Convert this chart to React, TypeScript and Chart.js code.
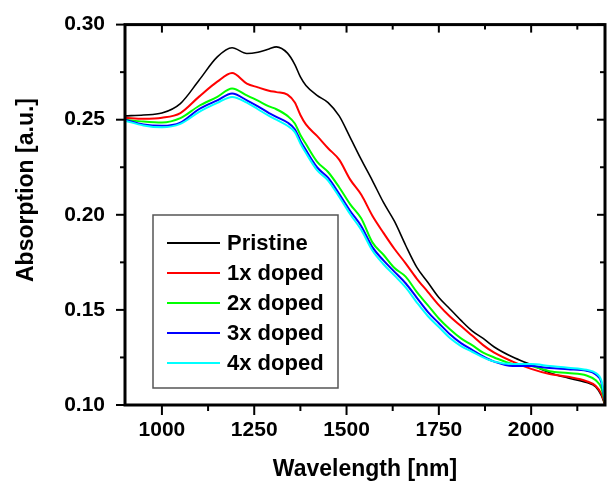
import React, { useEffect, useRef } from 'react';
import { Chart, registerables } from 'chart.js';

Chart.register(...registerables);

const wavelength = [
  900, 950, 1000, 1050, 1100, 1150, 1190, 1230, 1260, 1290, 1310, 1340, 1360, 1375, 1390,
  1420, 1450, 1480, 1510, 1540, 1570, 1600, 1630, 1660, 1690, 1720, 1750, 1780, 1810, 1840,
  1870, 1900, 1950, 2000, 2050, 2100, 2150, 2175, 2190, 2200,
];

const pristine = [
  0.2520, 0.2525, 0.2535, 0.2585, 0.2706, 0.2830, 0.2878, 0.2848, 0.2855, 0.2872, 0.2883, 0.2850, 0.2790, 0.2725, 0.2680,
  0.2628, 0.2590, 0.2520, 0.2406, 0.2290, 0.2180, 0.2065, 0.1965, 0.1840, 0.1725, 0.1645, 0.1565, 0.1505, 0.1445, 0.1390,
  0.1350, 0.1305, 0.1252, 0.1212, 0.1170, 0.1142, 0.1118, 0.1095, 0.1050, 0.1000,
];

const doped1 = [
  0.2510, 0.2505, 0.2510, 0.2535, 0.2620, 0.2700, 0.2745, 0.2690, 0.2670, 0.2652, 0.2645, 0.2632, 0.2590, 0.2525, 0.2475,
  0.2415, 0.2350, 0.2290, 0.2185, 0.2105, 0.1995, 0.1905, 0.1820, 0.1745, 0.1665, 0.1595, 0.1525, 0.1465, 0.1415, 0.1365,
  0.1315, 0.1275, 0.1228, 0.1190, 0.1163, 0.1148, 0.1125, 0.1100, 0.1060, 0.1005,
];

const doped2 = [
  0.2500, 0.2490, 0.2485, 0.2508, 0.2572, 0.2620, 0.2664, 0.2628, 0.2600, 0.2570, 0.2555, 0.2520, 0.2480, 0.2420, 0.2372,
  0.2280, 0.2225, 0.2145, 0.2055, 0.1980, 0.1855, 0.1790, 0.1720, 0.1675, 0.1595, 0.1525, 0.1455, 0.1398, 0.1350, 0.1315,
  0.1275, 0.1250, 0.1215, 0.1205, 0.1178, 0.1168, 0.1155, 0.1130, 0.1090, 0.1010,
];

const doped3 = [
  0.2500, 0.2475, 0.2468, 0.2485, 0.2555, 0.2602, 0.2638, 0.2602, 0.2570, 0.2535, 0.2515, 0.2485, 0.2450, 0.2390, 0.2340,
  0.2250, 0.2195, 0.2110, 0.2020, 0.1940, 0.1830, 0.1760, 0.1700, 0.1640, 0.1565, 0.1490, 0.1430, 0.1372, 0.1325, 0.1290,
  0.1255, 0.1228, 0.1205, 0.1205, 0.1194, 0.1188, 0.1180, 0.1160, 0.1120, 0.1020,
];

const doped4 = [
  0.2495, 0.2470, 0.2460, 0.2478, 0.2540, 0.2588, 0.2620, 0.2590, 0.2555, 0.2520, 0.2500, 0.2468, 0.2435, 0.2375, 0.2325,
  0.2235, 0.2180, 0.2095, 0.2003, 0.1920, 0.1812, 0.1740, 0.1680, 0.1618, 0.1540, 0.1468, 0.1410, 0.1352, 0.1310, 0.1280,
  0.1250, 0.1228, 0.1215, 0.1215, 0.1205, 0.1196, 0.1185, 0.1168, 0.1130, 0.1030,
];

const seriesNames = ['Pristine', '1x doped', '2x doped', '3x doped', '4x doped'];
const seriesColors = ['#000000', '#ff0000', '#00ff00', '#0000ff', '#00ffff'];
const seriesValues = [pristine, doped1, doped2, doped3, doped4];

const xMajorTicks = [1000, 1250, 1500, 1750, 2000];
const xMinorTicks = [1125, 1375, 1625, 1875, 2125];
const yMajorTicks = [0.10, 0.15, 0.20, 0.25, 0.30];
const yMinorTicks = [0.125, 0.175, 0.225, 0.275];

const FONT = "'Liberation Sans', Arial, sans-serif";

// frame, ticks on all four sides, y title and the boxed legend
const framePlugin = {
  id: 'frame',
  afterDatasetsDraw(chart: any) {
    const { ctx, chartArea: a, scales } = chart;
    const xs = scales.x;
    const ys = scales.y;
    ctx.save();

    // y axis title (sits a bit above the plot centre in the original)
    ctx.save();
    ctx.translate(27, 190);
    ctx.rotate(-Math.PI / 2);
    ctx.font = `bold 23px ${FONT}`;
    ctx.fillStyle = '#000000';
    ctx.textAlign = 'center';
    ctx.textBaseline = 'middle';
    ctx.fillText('Absorption [a.u.]', 0, 0);
    ctx.restore();

    // legend box
    const lx = 153, ly = 215, lw = 185, lh = 173;
    ctx.fillStyle = '#ffffff';
    ctx.fillRect(lx, ly, lw, lh);
    ctx.strokeStyle = '#555555';
    ctx.lineWidth = 1.5;
    ctx.strokeRect(lx, ly, lw, lh);
    ctx.font = `bold 22px ${FONT}`;
    ctx.textBaseline = 'middle';
    ctx.textAlign = 'left';
    seriesNames.forEach((name, i) => {
      const y = ly + 28 + i * 30;
      ctx.strokeStyle = seriesColors[i];
      ctx.lineWidth = 2;
      ctx.beginPath();
      ctx.moveTo(167, y);
      ctx.lineTo(220, y);
      ctx.stroke();
      ctx.fillStyle = '#000000';
      ctx.fillText(name, 227, y + 1);
    });

    // ticks
    ctx.strokeStyle = '#000000';
    ctx.lineWidth = 2;
    const tick = (x1: number, y1: number, x2: number, y2: number) => {
      ctx.beginPath();
      ctx.moveTo(x1, y1);
      ctx.lineTo(x2, y2);
      ctx.stroke();
    };
    xMajorTicks.forEach(v => {
      const px = xs.getPixelForValue(v);
      tick(px, a.bottom, px, a.bottom + 10);
      tick(px, a.top, px, a.top + 8);
    });
    xMinorTicks.forEach(v => {
      const px = xs.getPixelForValue(v);
      tick(px, a.bottom, px, a.bottom + 6);
      tick(px, a.top, px, a.top + 5);
    });
    yMajorTicks.forEach(v => {
      const py = ys.getPixelForValue(v);
      tick(a.left, py, a.left - 9, py);
      tick(a.right, py, a.right - 8, py);
    });
    yMinorTicks.forEach(v => {
      const py = ys.getPixelForValue(v);
      tick(a.left, py, a.left - 5, py);
      tick(a.right, py, a.right - 5, py);
    });

    // frame
    ctx.lineWidth = 3;
    ctx.strokeRect(a.left, a.top, a.right - a.left, a.bottom - a.top);
    ctx.restore();
  },
};

const App: React.FC = () => {
  const canvasRef = useRef<HTMLCanvasElement>(null);

  useEffect(() => {
    document.body.style.margin = '0';
    if (!canvasRef.current) return;

    const chart = new Chart(canvasRef.current, {
      type: 'line',
      data: {
        datasets: seriesValues.map((vals, i) => ({
          label: seriesNames[i],
          data: wavelength.map((w, j) => ({ x: w, y: vals[j] })),
          borderColor: seriesColors[i],
          borderWidth: i === 0 ? 1.6 : 2,
          pointRadius: 0,
          cubicInterpolationMode: 'monotone',
          fill: false,
          order: 5 - i,
        })),
      },
      options: {
        animation: false,
        responsive: true,
        maintainAspectRatio: false,
        layout: { padding: { left: 0, top: 18, right: 6, bottom: 0 } },
        plugins: { legend: { display: false }, tooltip: { enabled: false } },
        scales: {
          x: {
            type: 'linear',
            min: 900,
            max: 2200,
            afterBuildTicks: (s: any) => { s.ticks = xMajorTicks.map(v => ({ value: v })); },
            afterFit: (s: any) => { s.height = 78; },
            grid: { display: false },
            border: { display: false },
            ticks: {
              padding: 5,
              color: '#000000',
              font: { family: FONT, size: 21, weight: 'bold' },
              maxRotation: 0,
              callback: (v: any) => String(v),
            },
            title: {
              display: true,
              text: 'Wavelength [nm]',
              color: '#000000',
              font: { family: FONT, size: 23, weight: 'bold' },
              padding: { top: 0, bottom: 0 },
            },
          },
          y: {
            type: 'linear',
            min: 0.1,
            max: 0.3,
            afterBuildTicks: (s: any) => { s.ticks = yMajorTicks.map(v => ({ value: v })); },
            afterFit: (s: any) => { s.width = 125; },
            grid: { display: false },
            border: { display: false },
            ticks: {
              padding: 12,
              color: '#000000',
              font: { family: FONT, size: 21, weight: 'bold' },
              callback: (v: any) => Number(v).toFixed(2),
            },
            title: { display: false },
          },
        },
      },
      plugins: [framePlugin],
    });

    return () => chart.destroy();
  }, []);

  return (
    <div style={{ width: 611, height: 483, position: 'relative', background: '#ffffff' }}>
      <canvas ref={canvasRef}></canvas>
    </div>
  );
};

export default App;
